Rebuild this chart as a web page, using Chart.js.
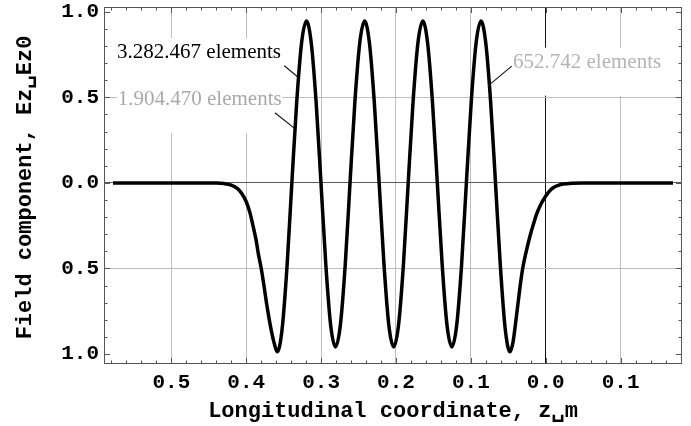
<!DOCTYPE html>
<html>
<head>
<meta charset="utf-8">
<script src="https://cdn.jsdelivr.net/npm/chart.js@4.4.1/dist/chart.umd.min.js"></script>
<style>
  html, body { margin: 0; padding: 0; background: #fff; }
  #wrap { width: 691px; height: 426px; position: relative; }
</style>
</head>
<body>
<div id="wrap"><canvas id="fieldChart"></canvas></div>
<script>
// longitudinal coordinate (m) and normalised field Ez/Ez0
const zPos = [
  -0.578, -0.54, -0.50, -0.46, -0.44, -0.43, -0.42, -0.412, -0.406, -0.400,
  -0.395, -0.391, -0.387, -0.384, -0.380, -0.376, -0.373, -0.370, -0.366, -0.3625,
  -0.3585, -0.3520, -0.3455, -0.3391, -0.3326, -0.3261, -0.3196, -0.3132, -0.3067, -0.3002,
  -0.2937, -0.2873, -0.2808, -0.2743, -0.2678, -0.2614, -0.2549, -0.2484, -0.2419, -0.2355,
  -0.2290, -0.2225, -0.2160, -0.2096, -0.2031, -0.1966, -0.1901, -0.1837, -0.1772, -0.1707,
  -0.1642, -0.1578, -0.1513, -0.1448, -0.1383, -0.1319, -0.1254, -0.1189, -0.1124, -0.1060,
  -0.0995, -0.0930, -0.0865, -0.0801, -0.0736, -0.0671, -0.0606, -0.0542, -0.0477, -0.0437,
  -0.0397, -0.0344, -0.0308, -0.026, -0.021, -0.016, -0.012, -0.006, 0.0, 0.005,
  0.010, 0.017, 0.0235, 0.035, 0.05, 0.10, 0.17
];
const ezField = [
  0, 0, 0, 0, -0.001, -0.004, -0.013, -0.032, -0.062, -0.11,
  -0.175, -0.25, -0.33, -0.41, -0.50, -0.61, -0.70, -0.78, -0.875, -0.94,
  -0.987, -0.85, -0.485, 0, 0.473, 0.818, 0.945, 0.818, 0.473, 0,
  -0.479, -0.83, -0.958, -0.83, -0.479, 0, 0.473, 0.818, 0.945, 0.818,
  0.473, 0, -0.479, -0.83, -0.958, -0.83, -0.479, 0, 0.473, 0.818,
  0.945, 0.818, 0.473, 0, -0.479, -0.83, -0.958, -0.83, -0.479, 0,
  0.473, 0.818, 0.945, 0.818, 0.473, 0, -0.485, -0.85, -0.987, -0.93,
  -0.80, -0.61, -0.50, -0.40, -0.31, -0.235, -0.18, -0.12, -0.077, -0.048,
  -0.028, -0.014, -0.007, -0.002, 0, 0, 0
];

const xTickValues = [-0.5, -0.4, -0.3, -0.2, -0.1, 0.0, 0.1];
const xTickLabels = ["0.5", "0.4", "0.3", "0.2", "0.1", "0.0", "0.1"];
const yTickValues = [-1.0, -0.5, 0.0, 0.5, 1.0];
const yTickLabels = ["1.0", "0.5", "0.0", "0.5", "1.0"];

const meshLabels = ["3.282.467 elements", "1.904.470 elements", "652.742 elements"];
const xTitle = "Longitudinal coordinate, z\u2423m";
const yTitle = "Field component, Ez\u2423Ez0";

const monoFont = "'Liberation Mono', 'Courier New', monospace";
const serifFont = "'Liberation Serif', 'Times New Roman', serif";
const gridGray = "#bdbdbd";

// label placement in data units (text left edge / baseline, leader line ends)
const callouts = [
  { label: 0, color: "#000", x: -0.5725, y: 0.728, from: [-0.3493, 0.6845], to: [-0.3314, 0.6203] },
  { label: 1, color: "#a9a9a9", x: -0.5716, y: 0.455, from: [-0.3617, 0.4099], to: [-0.3359, 0.3199] },
  { label: 2, color: "#b4b4b4", x: -0.0437, y: 0.673, from: [-0.0454, 0.6820], to: [-0.0730, 0.5809] }
];

const decorPlugin = {
  id: "decor",
  beforeDatasetsDraw(chart) {
    const ctx = chart.ctx;
    const xs = chart.scales.x;
    const ys = chart.scales.y;
    ctx.save();
    ctx.font = "21px " + serifFont;
    callouts.forEach(function (c) {
      const text = meshLabels[c.label];
      const px = xs.getPixelForValue(c.x);
      const py = ys.getPixelForValue(c.y);
      const w = ctx.measureText(text).width;
      ctx.fillStyle = "#fff";
      ctx.fillRect(px - 1, py - 20, w + 2, 48);
    });
    callouts.forEach(function (c) {
      const text = meshLabels[c.label];
      const px = xs.getPixelForValue(c.x);
      const py = ys.getPixelForValue(c.y);
      ctx.fillStyle = c.color;
      ctx.textBaseline = "alphabetic";
      ctx.textAlign = "left";
      ctx.fillText(text, px, py);
      ctx.strokeStyle = "#111";
      ctx.lineWidth = 1.1;
      ctx.beginPath();
      ctx.moveTo(xs.getPixelForValue(c.from[0]), ys.getPixelForValue(c.from[1]));
      ctx.lineTo(xs.getPixelForValue(c.to[0]), ys.getPixelForValue(c.to[1]));
      ctx.stroke();
    });
    ctx.restore();
  },
  afterDatasetsDraw(chart) {
    const ctx = chart.ctx;
    const area = chart.chartArea;
    const xs = chart.scales.x;
    const ys = chart.scales.y;
    ctx.save();
    ctx.strokeStyle = "#555";
    ctx.lineWidth = 1;
    ctx.strokeRect(Math.round(area.left) + 0.5, Math.round(area.top) + 0.5,
      Math.round(area.right - area.left) - 1, Math.round(area.bottom - area.top) - 1);

    // inward frame ticks, minor every 0.02 on x and 0.1 on y
    ctx.beginPath();
    for (let i = Math.ceil(xs.min / 0.02); i * 0.02 <= xs.max; i++) {
      const px = Math.round(xs.getPixelForValue(i * 0.02)) + 0.5;
      const len = i % 5 === 0 ? 6 : 3.5;
      ctx.moveTo(px, area.bottom);
      ctx.lineTo(px, area.bottom - len);
      ctx.moveTo(px, area.top);
      ctx.lineTo(px, area.top + len);
    }
    for (let j = Math.ceil(ys.min / 0.1 - 1e-6); j * 0.1 <= ys.max + 1e-6; j++) {
      const py = Math.round(ys.getPixelForValue(j * 0.1)) + 0.5;
      const len = j % 5 === 0 ? 6 : 3.5;
      ctx.moveTo(area.left, py);
      ctx.lineTo(area.left + len, py);
      ctx.moveTo(area.right, py);
      ctx.lineTo(area.right - len, py);
    }
    ctx.stroke();
    ctx.restore();
  },
  afterDraw(chart) {
    const ctx = chart.ctx;
    const area = chart.chartArea;
    ctx.save();
    ctx.fillStyle = "#000";
    ctx.font = "bold 22px " + monoFont;
    ctx.textAlign = "center";
    ctx.textBaseline = "alphabetic";
    ctx.fillText(xTitle, 393, 417);
    ctx.translate(30.5, (area.top + area.bottom) / 2 + 2);
    ctx.rotate(-Math.PI / 2);
    ctx.fillText(yTitle, 0, 0);
    ctx.restore();
  }
};

new Chart(document.getElementById("fieldChart"), {
  type: "line",
  data: {
    datasets: [
      {
        label: "Ez/Ez0",
        data: zPos.map(function (z, i) { return { x: z, y: ezField[i] }; }),
        borderColor: "#000",
        borderWidth: 3.5,
        pointRadius: 0,
        fill: false,
        cubicInterpolationMode: "monotone"
      }
    ]
  },
  options: {
    responsive: true,
    maintainAspectRatio: false,
    animation: false,
    layout: { padding: { top: 7, right: 9, left: 0, bottom: 0 } },
    plugins: {
      legend: { display: false },
      tooltip: { enabled: false }
    },
    scales: {
      x: {
        type: "linear",
        min: -0.59,
        max: 0.182,
        afterBuildTicks: function (scale) {
          scale.ticks = xTickValues.map(function (v) { return { value: v }; });
        },
        afterFit: function (scale) {
          scale.height = 62;
          scale.paddingLeft = 0;
          scale.paddingRight = 0;
        },
        border: { display: false },
        grid: {
          drawTicks: false,
          color: function (c) { return c.tick && c.tick.value === 0 ? "#111" : gridGray; }
        },
        ticks: {
          autoSkip: false,
          maxRotation: 0,
          padding: 6,
          color: "#000",
          font: { family: monoFont, size: 21, weight: "bold" },
          callback: function (value, index) { return xTickLabels[index]; }
        }
      },
      y: {
        type: "linear",
        min: -1.058,
        max: 1.0275,
        afterBuildTicks: function (scale) {
          scale.ticks = yTickValues.map(function (v) { return { value: v }; });
        },
        afterFit: function (scale) {
          scale.width = 104;
          scale.paddingTop = 0;
          scale.paddingBottom = 0;
        },
        border: { display: false },
        grid: {
          drawTicks: false,
          color: function (c) {
            if (!c.tick) return gridGray;
            if (c.tick.value === 0) return "#5a5a5a";
            if (Math.abs(c.tick.value) === 1) return "rgba(0,0,0,0)";
            return gridGray;
          }
        },
        ticks: {
          autoSkip: false,
          padding: 5,
          color: "#000",
          font: { family: monoFont, size: 21, weight: "bold" },
          callback: function (value, index) { return yTickLabels[index]; }
        }
      }
    }
  },
  plugins: [decorPlugin]
});
</script>
</body>
</html>
